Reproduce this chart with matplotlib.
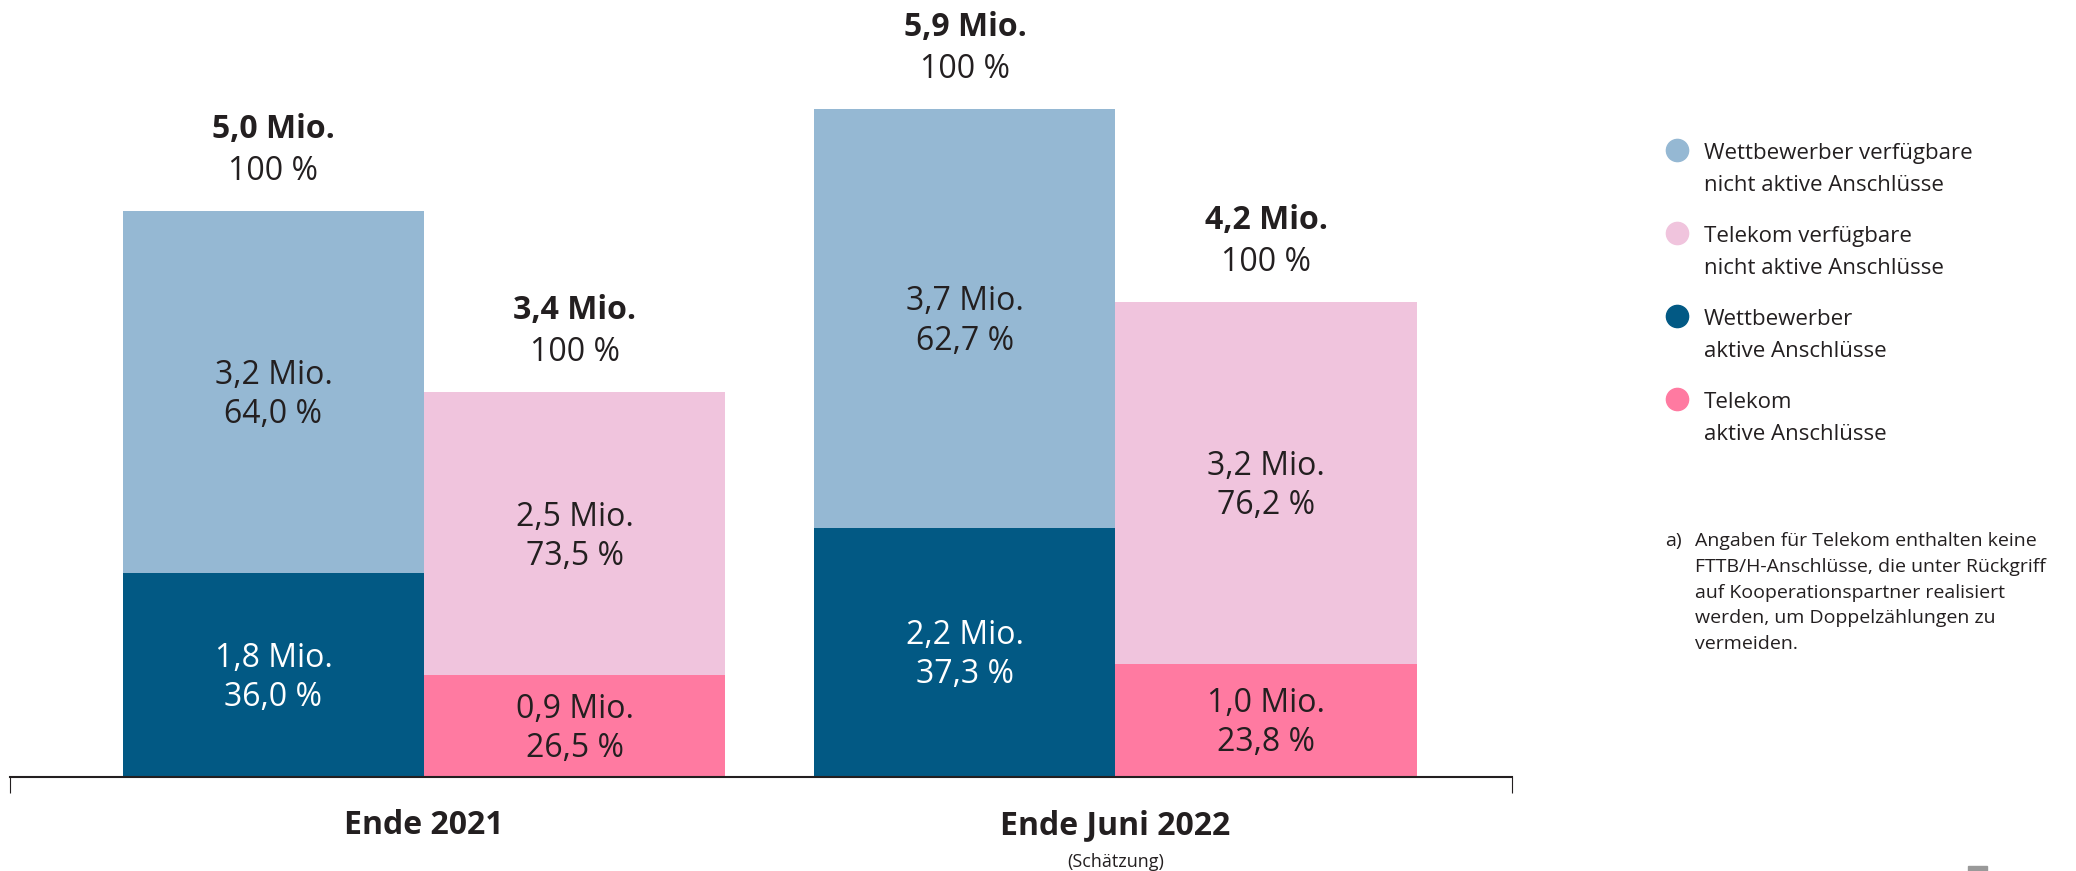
import numpy as np
import matplotlib
matplotlib.use("Agg")
import matplotlib.pyplot as plt
from matplotlib.lines import Line2D
from matplotlib.patches import Rectangle

plt.rcParams['font.family'] = ['Open Sans', 'DejaVu Sans']

# Daten (Mio. Anschlüsse)
kategorien = ['Ende 2021', 'Ende Juni 2022']
untertitel = ['', '(Schätzung)']
wb_aktiv = [1.8, 2.2]
wb_nicht_aktiv = [3.2, 3.7]
tk_aktiv = [0.9, 1.0]
tk_nicht_aktiv = [2.5, 3.2]
wb_gesamt = [5.0, 5.9]
tk_gesamt = [3.4, 4.2]
wb_aktiv_pct = [36.0, 37.3]
wb_nicht_aktiv_pct = [64.0, 62.7]
tk_aktiv_pct = [26.5, 23.8]
tk_nicht_aktiv_pct = [73.5, 76.2]

legende = [
    ('Wettbewerber verfügbare', 'nicht aktive Anschlüsse'),
    ('Telekom verfügbare', 'nicht aktive Anschlüsse'),
    ('Wettbewerber', 'aktive Anschlüsse'),
    ('Telekom', 'aktive Anschlüsse'),
]
fussnote = [
    'Angaben für Telekom enthalten keine',
    'FTTB/H-Anschlüsse, die unter Rückgriff',
    'auf Kooperationspartner realisiert',
    'werden, um Doppelzählungen zu',
    'vermeiden.',
]

hellblau = '#95b8d3'
dunkelblau = '#025984'
rosa_hell = '#f0c4dd'
rosa = '#ff7aa1'
textfarbe = '#231f20'

W, H = 2076, 871
fig = plt.figure(figsize=(W / 100, H / 100), dpi=100)
ax = fig.add_axes([10 / W, 94 / H, 1502 / W, 777 / H])


def mio(v):
    return f'{v:.1f}'.replace('.', ',') + ' Mio.'


def pct(v):
    return f'{v:.1f}'.replace('.', ',') + ' %'


x = np.arange(len(kategorien))
w = 0.4353
x_wb = x - w / 2
x_tk = x + w / 2

ax.bar(x_wb, wb_aktiv, w, color=dunkelblau)
ax.bar(x_wb, wb_nicht_aktiv, w, bottom=wb_aktiv, color=hellblau)
ax.bar(x_tk, tk_aktiv, w, color=rosa)
ax.bar(x_tk, tk_nicht_aktiv, w, bottom=tk_aktiv, color=rosa_hell)

xmin, xmax = -0.5987, 1.5734
ax.set_xlim(xmin, xmax)
ax.set_ylim(0, 777 / 113.2)
for s in ['top', 'left', 'right']:
    ax.spines[s].set_visible(False)
ax.spines['bottom'].set_linewidth(1.5)
ax.spines['bottom'].set_color(textfarbe)
ax.set_yticks([])
ax.set_xticks([xmin, xmax])
ax.set_xticklabels([])
ax.tick_params(axis='x', direction='out', length=11.5, width=0.8, color=textfarbe)


def seg_label(xp, unten, hoehe, t1, t2, farbe=textfarbe):
    yc = unten + hoehe / 2
    ax.annotate(t1, (xp, yc), xytext=(0, 5.8), textcoords='offset points',
                ha='center', va='baseline', fontsize=23, color=farbe)
    ax.annotate(t2, (xp, yc), xytext=(0, -22.3), textcoords='offset points',
                ha='center', va='baseline', fontsize=23, color=farbe)


def top_label(xp, y, t):
    ax.annotate(mio(t), (xp, y), xytext=(0, 52.6), textcoords='offset points',
                ha='center', va='baseline', fontsize=23, fontweight='bold',
                color=textfarbe, annotation_clip=False)
    ax.annotate('100 %', (xp, y), xytext=(0, 22.3), textcoords='offset points',
                ha='center', va='baseline', fontsize=23, color=textfarbe,
                annotation_clip=False)


for i in range(len(kategorien)):
    seg_label(x_wb[i], 0, wb_aktiv[i], mio(wb_aktiv[i]), pct(wb_aktiv_pct[i]), 'white')
    seg_label(x_wb[i], wb_aktiv[i], wb_nicht_aktiv[i],
              mio(wb_nicht_aktiv[i]), pct(wb_nicht_aktiv_pct[i]))
    seg_label(x_tk[i], 0, tk_aktiv[i], mio(tk_aktiv[i]), pct(tk_aktiv_pct[i]))
    seg_label(x_tk[i], tk_aktiv[i], tk_nicht_aktiv[i],
              mio(tk_nicht_aktiv[i]), pct(tk_nicht_aktiv_pct[i]))
    top_label(x_wb[i], wb_gesamt[i], wb_gesamt[i])
    top_label(x_tk[i], tk_gesamt[i], tk_gesamt[i])

    ax.annotate(kategorien[i], (x[i], 0), xytext=(0, -41), textcoords='offset points',
                ha='center', va='baseline', fontsize=23, fontweight='bold',
                color=textfarbe, annotation_clip=False)
    if untertitel[i]:
        ax.annotate(untertitel[i], (x[i], 0), xytext=(0, -64.5), textcoords='offset points',
                    ha='center', va='baseline', fontsize=13, color=textfarbe,
                    annotation_clip=False)

# Legende
farben = [hellblau, rosa_hell, dunkelblau, rosa]
for i, (z1, z2) in enumerate(legende):
    y0 = 159 + 83 * i
    fig.add_artist(Line2D([1677 / W], [1 - (y0 - 9) / H], marker='o', markersize=16,
                          color=farben[i], linestyle='none', transform=fig.transFigure))
    fig.text(1704 / W, 1 - y0 / H, z1, fontsize=16, color=textfarbe, va='baseline')
    fig.text(1704 / W, 1 - (y0 + 32) / H, z2, fontsize=16, color=textfarbe, va='baseline')

# Fußnote
fig.text(1665 / W, 1 - 546 / H, 'a)', fontsize=14, color=textfarbe, va='baseline')
for j, zeile in enumerate(fussnote):
    fig.text(1695 / W, 1 - (546 + 25.8 * j) / H, zeile, fontsize=14,
             color=textfarbe, va='baseline')

fig.add_artist(Rectangle((1968 / W, 0), 19 / W, 5 / H, color='#999999',
                         transform=fig.transFigure))

fig.savefig('out.png', dpi=100)
